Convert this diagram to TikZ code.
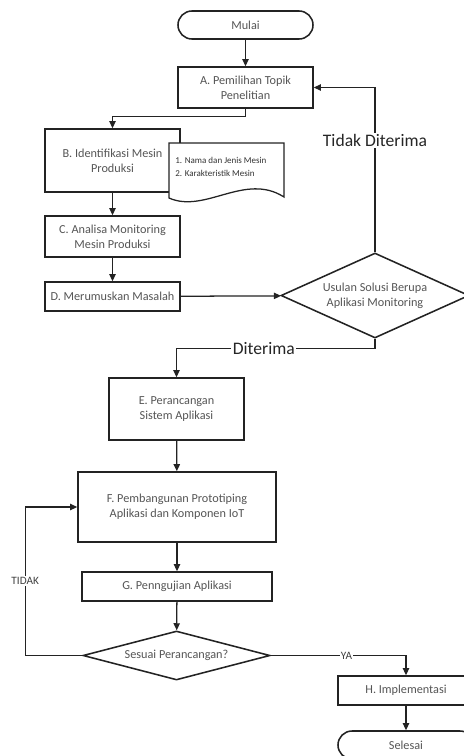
\documentclass[tikz,border=0pt]{standalone}
\usepackage{fontspec}
\setmainfont{Carlito}
\usetikzlibrary{shapes.geometric,arrows.meta}
\definecolor{garis}{RGB}{35,35,35}
\definecolor{teks}{RGB}{85,85,85}
\newcommand{\ketbesar}[1]{{\fontsize{12.5}{15}\selectfont\color{black!85} #1}}
\newcommand{\ketkecil}[1]{{\fontsize{8}{9.6}\selectfont\color{black!75} #1}}

\begin{document}
\begin{tikzpicture}[
    x=0.025cm, y=-0.025cm,
    proses/.style={rectangle, draw=garis, line width=1.1pt, fill=white, text=teks, align=center, font=\fontsize{8.7}{10.5}\selectfont, inner sep=2pt, minimum width=3.375cm},
    terminal/.style={proses, rounded corners=0.35cm, minimum height=0.7cm},
    keputusan/.style={diamond, draw=garis, line width=1.1pt, fill=white, text=teks, align=center, font=\fontsize{8.7}{10.5}\selectfont, inner sep=0pt},
    panah/.style={-{Triangle[length=5pt,width=4.5pt]}, line width=0.9pt, draw=garis},
    ket/.style={fill=white, inner sep=1pt}
]
\useasboundingbox (0,0) rectangle (464,756);

% Mulai
\node[terminal] (mulai) at (245.5,25) {Mulai};

% Tahap A - D
\node[proses, minimum height=1.025cm] (a) at (245.5,87.5) {A. Pemilihan Topik\\Penelitian};
\node[proses, minimum height=1.575cm] (b) at (112.5,160.5) {B. Identifikasi Mesin\\Produksi};
\node[proses, minimum height=1.025cm] (c) at (112.5,236.5) {C. Analisa Monitoring\\Mesin Produksi};
\node[proses, minimum height=0.725cm] (d) at (112.5,296.5) {D. Merumuskan Masalah};

% Dokumen hasil identifikasi
\draw[draw=garis, line width=0.9pt, fill=white] (169,143) -- (284,143) -- (284,197)
    .. controls (245,172) and (205,214) .. (169,198) -- cycle;
\node[anchor=west, align=left, inner sep=0pt, font=\fontsize{6.4}{9.5}\selectfont, text=black!80] (catatan) at (175,167)
    {1. Nama dan Jenis Mesin\\2. Karakteristik Mesin};

% Keputusan usulan
\node[keputusan, minimum width=4.7cm, minimum height=2.125cm, aspect=2.2] (usulan) at (375,295.5)
    {Usulan Solusi Berupa\\Aplikasi Monitoring};

% Tahap E - G
\node[proses, minimum height=1.55cm] (e) at (176.5,409) {E. Perancangan\\Sistem Aplikasi};
\node[proses, minimum width=4.95cm, minimum height=1.75cm] (f) at (177,507) {F. Pembangunan Prototiping\\Aplikasi dan Komponen IoT};
\node[proses, minimum width=4.75cm, minimum height=0.725cm] (g) at (177,586.5) {G. Penngujian Aplikasi};

% Keputusan pengujian
\node[keputusan, minimum width=4.675cm, minimum height=1.225cm, aspect=3.8] (sesuai) at (176.5,655.5)
    {Sesuai Perancangan?};

% Tahap H dan Selesai
\node[proses, minimum width=3.4cm, minimum height=0.725cm] (h) at (406,690.5) {H. Implementasi};
\node[terminal, minimum width=3.4cm] (selesai) at (406,745) {Selesai};

% Alur
\draw[panah] (mulai) -- (a);
\draw[panah] (a.south) -- ++(0,7.5) -| (b.north);
\draw[panah] (b) -- (c);
\draw[panah] (c) -- (d);
\draw[panah] (d) -- (usulan);
\draw[panah] (usulan.north) |- (a.east) node[ket, pos=0.34] {\ketbesar{Tidak Diterima}};
\draw[panah] (usulan.south) -- ++(0,10) -| (e.north) node[ket, pos=0.28] {\ketbesar{Diterima}};
\draw[panah] (e) -- (f);
\draw[panah] (f) -- (g);
\draw[panah] (g) -- (sesuai);
\draw[panah] (sesuai.west) -- ++(-57,0) |- (f.west) node[ket, pos=0.25] {\ketkecil{TIDAK}};
\draw[panah] (sesuai.east) -| (h.north) node[ket, pos=0.28] {\ketkecil{YA}};
\draw[panah] (h) -- (selesai);

\end{tikzpicture}
\end{document}
